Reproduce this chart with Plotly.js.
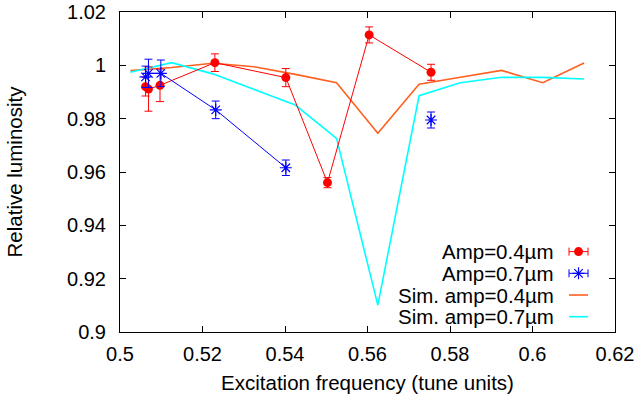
<!DOCTYPE html>
<html>
<head>
<meta charset="utf-8">
<script src="https://cdn.plot.ly/plotly-3.0.1.min.js"></script>
<style>
html,body{margin:0;padding:0;background:#fff;}
#chart{width:641px;height:404px;}
</style>
</head>
<body>
<div id="chart"></div>
<script>
// ---- Data ----
const ampLowX   = [0.5062, 0.5069, 0.5097, 0.5230, 0.5402, 0.5503, 0.5604, 0.5754];
const ampLowY   = [0.9920, 0.9911, 0.9925, 1.0010, 0.9954, 0.9560, 1.0114, 0.9974];
const ampLowErr = [0.0035, 0.0083, 0.0061, 0.0033, 0.0034, 0.0019, 0.0030, 0.0030];

const ampHighX   = [0.5062, 0.5069, 0.5099, 0.5232, 0.5402, null, 0.5754];
const ampHighY   = [0.9957, 0.9970, 0.9970, 0.9833, 0.9616, null, 0.9795];
const ampHighErr = [0.0040, 0.0053, 0.0050, 0.0033, 0.0029, null, 0.0030];

const simX     = [0.5025, 0.5125, 0.5225, 0.5325, 0.5425, 0.5525, 0.5625, 0.5725, 0.5825, 0.5925, 0.6025, 0.6125];
const simLowY  = [0.9980, 0.9992, 1.0008, 0.9995, 0.9966, 0.9935, 0.9745, 0.9929, 0.9955, 0.9981, 0.9935, 1.0009];
const simHighY = [0.9974, 1.0010, 0.9968, 0.9910, 0.9851, 0.9726, 0.9101, 0.9886, 0.9935, 0.9955, 0.9955, 0.9949];

const seriesNames = ["Amp=0.4\u00b5m", "Amp=0.7\u00b5m", "Sim. amp=0.4\u00b5m", "Sim. amp=0.7\u00b5m"];
const xTickVals = [0.5, 0.52, 0.54, 0.56, 0.58, 0.6, 0.62];
const yTickVals = [0.9, 0.92, 0.94, 0.96, 0.98, 1, 1.02];

// ---- Styles ----
const RED = "#ff0000", BLUE = "#0000ff", ORANGE = "#ff6020", CYAN = "#00ffff";
const FONT = {family: "Liberation Sans, Arial, Helvetica, sans-serif", size: 20, color: "#000"};
const TITLE_FONT = {family: "Liberation Sans, Arial, Helvetica, sans-serif", size: 20.5, color: "#000"};

const traces = [
  {x: simX, y: simLowY, mode: "lines", line: {color: ORANGE, width: 1.6}, showlegend: false, hoverinfo: "skip"},
  {x: simX, y: simHighY, mode: "lines", line: {color: CYAN, width: 1.6}, showlegend: false, hoverinfo: "skip"},
  {x: ampLowX, y: ampLowY, mode: "lines+markers", line: {color: RED, width: 1},
   marker: {symbol: "circle", size: 9, color: RED},
   error_y: {type: "data", array: ampLowErr, visible: true, color: RED, thickness: 1, width: 4},
   showlegend: false},
  {x: ampHighX, y: ampHighY, mode: "lines+markers", line: {color: BLUE, width: 1}, connectgaps: false,
   marker: {symbol: "asterisk-open", size: 10, color: BLUE, line: {color: BLUE, width: 1.2}},
   error_y: {type: "data", array: ampHighErr, visible: true, color: BLUE, thickness: 1, width: 4},
   showlegend: false}
];

// ---- Key (gnuplot-style: text right-aligned, sample on the right) ----
const keyRows = [0.2512, 0.1834, 0.1156, 0.0478];   // paper y of each key row
const keyTextX = 0.8808, keyCX = 0.9263, keyHalf = 0.0192;
const keyStyles = [
  {kind: "err", color: RED, marker: {symbol: "circle", size: 9, color: RED}},
  {kind: "err", color: BLUE, marker: {symbol: "asterisk-open", size: 10, color: BLUE, line: {color: BLUE, width: 1.2}}},
  {kind: "line", color: ORANGE},
  {kind: "line", color: CYAN}
];
const annotations = [];
keyStyles.forEach((k, i) => {
  annotations.push({xref: "paper", yref: "paper", x: keyTextX, y: keyRows[i], xanchor: "right", yanchor: "middle",
                    text: seriesNames[i], showarrow: false, font: TITLE_FONT});
  if (k.kind === "err") {
    traces.push({x: [keyCX], y: [keyRows[i]], xaxis: "x2", yaxis: "y2", mode: "markers", marker: k.marker,
                 error_x: {type: "data", array: [keyHalf], visible: true, color: k.color, thickness: 1, width: 4},
                 showlegend: false, hoverinfo: "skip"});
  } else {
    traces.push({x: [keyCX - keyHalf, keyCX + keyHalf], y: [keyRows[i], keyRows[i]], xaxis: "x2", yaxis: "y2",
                 mode: "lines", line: {color: k.color, width: 1.6}, showlegend: false, hoverinfo: "skip"});
  }
});

const axisCommon = {
  showgrid: false, zeroline: false, showline: true, linecolor: "#000", linewidth: 1,
  mirror: "ticks", ticks: "inside", ticklen: 6, tickwidth: 1, tickcolor: "#000",
  tickfont: FONT
};

const layout = {
  width: 641, height: 404,
  margin: {l: 120, r: 26, t: 12, b: 72, pad: 0},
  paper_bgcolor: "#fff", plot_bgcolor: "#fff",
  font: FONT,
  showlegend: false,
  xaxis: Object.assign({}, axisCommon, {range: [0.5, 0.62], tickvals: xTickVals, automargin: false,
    ticklabelstandoff: 4,
    title: {text: "Excitation frequency (tune units)", font: TITLE_FONT, standoff: 11}}),
  yaxis: Object.assign({}, axisCommon, {range: [0.9, 1.02], tickvals: yTickVals, automargin: false,
    ticklabelstandoff: 9,
    title: {text: "Relative luminosity", font: TITLE_FONT, standoff: 38}}),
  xaxis2: {overlaying: "x", range: [0, 1], visible: false, fixedrange: true},
  yaxis2: {overlaying: "y", range: [0, 1], visible: false, fixedrange: true},
  annotations: annotations
};

Plotly.newPlot("chart", traces, layout, {displayModeBar: false, staticPlot: true});
</script>
</body>
</html>
